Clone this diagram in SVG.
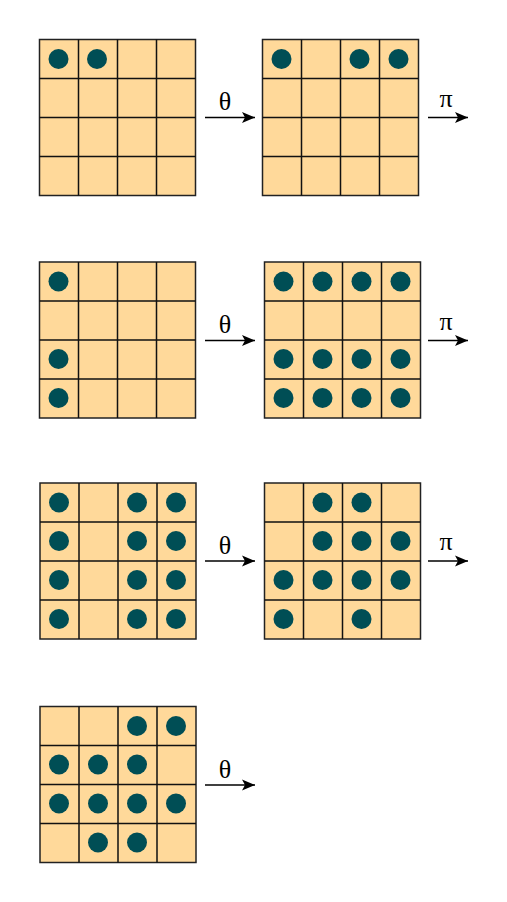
<svg xmlns="http://www.w3.org/2000/svg" width="507" height="902" viewBox="0 0 507 902">
<defs>
<style>
.bg{fill:#FFD99A;stroke:#222;stroke-width:1.5}
.ln{fill:none;stroke:#111;stroke-width:1.5}
.dot{fill:#004E55}
.arr{stroke:#000;stroke-width:1.5;fill:none}
.lbl{font-family:"Liberation Serif","DejaVu Serif",serif;font-size:26px;fill:#000;text-anchor:middle}
</style>
<marker id="ah" markerUnits="userSpaceOnUse" markerWidth="14" markerHeight="12" refX="13" refY="6" orient="auto">
<path d="M0,0.5 L13,6 L0,11.5 L3,6 z" fill="#000"/>
</marker>
<g id="grid">
<rect class="bg" x="0" y="0" width="156" height="156"/>
<path class="ln" d="M39,0V156M78,0V156M117,0V156M0,39H156M0,78H156M0,117H156"/>
</g>
</defs>

<g id="r1a" transform="translate(39.5,39.5)">
<use href="#grid"/>
<circle class="dot" cx="19" cy="19.5" r="10"/>
<circle class="dot" cx="57.5" cy="19.5" r="10"/>
</g>

<g id="r1b" transform="translate(262.5,39.5)">
<use href="#grid"/>
<circle class="dot" cx="19" cy="19.5" r="10"/>
<circle class="dot" cx="97" cy="19.5" r="10"/>
<circle class="dot" cx="136" cy="19.5" r="10"/>
</g>

<g id="r2a" transform="translate(39.5,262)">
<use href="#grid"/>
<circle class="dot" cx="19" cy="19.5" r="10"/>
<circle class="dot" cx="19" cy="97" r="10"/>
<circle class="dot" cx="19" cy="136" r="10"/>
</g>

<g id="r2b" transform="translate(264.5,262)">
<use href="#grid"/>
<circle class="dot" cx="19" cy="19.5" r="10"/>
<circle class="dot" cx="58" cy="19.5" r="10"/>
<circle class="dot" cx="97" cy="19.5" r="10"/>
<circle class="dot" cx="136" cy="19.5" r="10"/>
<circle class="dot" cx="19" cy="97" r="10"/>
<circle class="dot" cx="58" cy="97" r="10"/>
<circle class="dot" cx="97" cy="97" r="10"/>
<circle class="dot" cx="136" cy="97" r="10"/>
<circle class="dot" cx="19" cy="136" r="10"/>
<circle class="dot" cx="58" cy="136" r="10"/>
<circle class="dot" cx="97" cy="136" r="10"/>
<circle class="dot" cx="136" cy="136" r="10"/>
</g>

<g id="r3a" transform="translate(40,483)">
<use href="#grid"/>
<circle class="dot" cx="19" cy="19.5" r="10"/>
<circle class="dot" cx="97" cy="19.5" r="10"/>
<circle class="dot" cx="136" cy="19.5" r="10"/>
<circle class="dot" cx="19" cy="58" r="10"/>
<circle class="dot" cx="97" cy="58" r="10"/>
<circle class="dot" cx="136" cy="58" r="10"/>
<circle class="dot" cx="19" cy="97" r="10"/>
<circle class="dot" cx="97" cy="97" r="10"/>
<circle class="dot" cx="136" cy="97" r="10"/>
<circle class="dot" cx="19" cy="136" r="10"/>
<circle class="dot" cx="97" cy="136" r="10"/>
<circle class="dot" cx="136" cy="136" r="10"/>
</g>

<g id="r3b" transform="translate(264.5,483)">
<use href="#grid"/>
<circle class="dot" cx="58" cy="19.5" r="10"/>
<circle class="dot" cx="97" cy="19.5" r="10"/>
<circle class="dot" cx="58" cy="58" r="10"/>
<circle class="dot" cx="97" cy="58" r="10"/>
<circle class="dot" cx="136" cy="58" r="10"/>
<circle class="dot" cx="19" cy="97" r="10"/>
<circle class="dot" cx="58" cy="97" r="10"/>
<circle class="dot" cx="97" cy="97" r="10"/>
<circle class="dot" cx="136" cy="97" r="10"/>
<circle class="dot" cx="19" cy="136" r="10"/>
<circle class="dot" cx="97" cy="136" r="10"/>
</g>

<g id="r4a" transform="translate(40,706.5)">
<use href="#grid"/>
<circle class="dot" cx="97" cy="19.5" r="10"/>
<circle class="dot" cx="136" cy="19.5" r="10"/>
<circle class="dot" cx="19" cy="58" r="10"/>
<circle class="dot" cx="58" cy="58" r="10"/>
<circle class="dot" cx="97" cy="58" r="10"/>
<circle class="dot" cx="19" cy="97" r="10"/>
<circle class="dot" cx="58" cy="97" r="10"/>
<circle class="dot" cx="97" cy="97" r="10"/>
<circle class="dot" cx="136" cy="97" r="10"/>
<circle class="dot" cx="58" cy="136" r="10"/>
<circle class="dot" cx="97" cy="136" r="10"/>
</g>

<g id="connectors">
<line class="arr" x1="205" y1="117.5" x2="255" y2="117.5" marker-end="url(#ah)"/>
<line class="arr" x1="428" y1="117.5" x2="468" y2="117.5" marker-end="url(#ah)"/>
<line class="arr" x1="205" y1="340.5" x2="255" y2="340.5" marker-end="url(#ah)"/>
<line class="arr" x1="428" y1="340.5" x2="468" y2="340.5" marker-end="url(#ah)"/>
<line class="arr" x1="205" y1="561" x2="255" y2="561" marker-end="url(#ah)"/>
<line class="arr" x1="428" y1="561" x2="468" y2="561" marker-end="url(#ah)"/>
<line class="arr" x1="205" y1="785" x2="255" y2="785" marker-end="url(#ah)"/>
<text class="lbl" x="225" y="110">θ</text>
<text class="lbl" x="446" y="106.5">π</text>
<text class="lbl" x="225" y="333">θ</text>
<text class="lbl" x="446" y="330">π</text>
<text class="lbl" x="225" y="553.5">θ</text>
<text class="lbl" x="446" y="550">π</text>
<text class="lbl" x="225" y="777.5">θ</text>
</g>
</svg>
